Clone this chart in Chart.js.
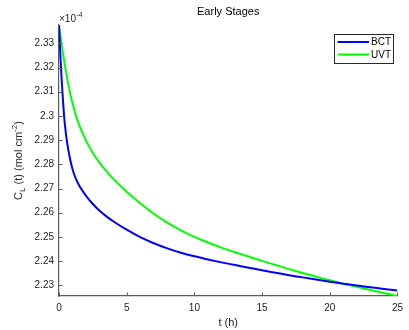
<!DOCTYPE html>
<html lang="en">
<head>
    <meta charset="UTF-8">
    <title>Early Stages</title>
    <script src="https://cdn.jsdelivr.net/npm/chart.js"></script>
    <style>
        html, body { margin: 0; padding: 0; background: #fff; }
        #wrap { width: 409px; height: 330px; position: relative; }
    </style>
</head>
<body>
    <div id="wrap"><canvas id="earlyChart"></canvas></div>

    <script>
        // time in hours
        const hours = [0, 0.05, 0.1, 0.15, 0.2, 0.3, 0.4, 0.5, 0.6, 0.8, 1, 1.25, 1.5, 2, 2.5, 3, 3.5, 4,
            5, 6, 7, 8, 9, 10, 11, 12, 13, 14, 15, 16, 17, 18, 19, 20, 21, 22, 23, 24, 25];

        // C_L(t) in units of 1e-4 mol cm^-2
        const bct = [2.3375, 2.3312, 2.3253, 2.3198, 2.3148, 2.3058, 2.2985, 2.2932, 2.2890, 2.2827,
            2.2780, 2.2740, 2.2712, 2.2670, 2.2636, 2.2608, 2.2585, 2.2565,
            2.2530, 2.2499, 2.2474, 2.2453, 2.2435, 2.2420, 2.2407, 2.2395, 2.2384, 2.2373,
            2.2362, 2.2352, 2.2342, 2.2333, 2.2324, 2.2315, 2.2307, 2.2299, 2.2292, 2.2285, 2.2279];
        const uvt = [2.3375, 2.3354, 2.3333, 2.3313, 2.3293, 2.3256, 2.3221, 2.3188, 2.3157, 2.3100,
            2.3052, 2.3002, 2.2961, 2.2898, 2.2847, 2.2806, 2.2772, 2.2741,
            2.2687, 2.2639, 2.2596, 2.2559, 2.2527, 2.2500, 2.2477, 2.2456, 2.2437, 2.2419,
            2.2401, 2.2384, 2.2367, 2.2351, 2.2336, 2.2321, 2.2307, 2.2294, 2.2281, 2.2268, 2.2256];

        const seriesNames = ['BCT', 'UVT'];
        const xTicks = [0, 5, 10, 15, 20, 25];
        const yTicks = [2.23, 2.24, 2.25, 2.26, 2.27, 2.28, 2.29, 2.3, 2.31, 2.32, 2.33];

        const axisColor = '#5a5a5a';
        const textColor = '#262626';
        const fontFamily = '"Liberation Sans", Arial, Helvetica, sans-serif';

        // small inward tick marks, MATLAB style
        const innerTicks = {
            id: 'innerTicks',
            afterDatasetsDraw(chart) {
                const ctx = chart.ctx;
                const x = chart.scales.x, y = chart.scales.y;
                const area = chart.chartArea;
                ctx.save();
                ctx.strokeStyle = axisColor;
                ctx.lineWidth = 1;
                ctx.beginPath();
                x.ticks.forEach(t => {
                    const px = Math.round(x.getPixelForValue(t.value)) + 0.5;
                    ctx.moveTo(px, area.bottom);
                    ctx.lineTo(px, area.bottom - 3.5);
                });
                y.ticks.forEach(t => {
                    const py = Math.round(y.getPixelForValue(t.value)) + 0.5;
                    ctx.moveTo(area.left, py);
                    ctx.lineTo(area.left + 3.5, py);
                });
                ctx.stroke();
                ctx.restore();
            }
        };

        // title, exponent, y label and the legend box
        const annotations = {
            id: 'annotations',
            afterDraw(chart) {
                const ctx = chart.ctx;
                const area = chart.chartArea;
                const midX = (area.left + area.right) / 2;
                const midY = (area.top + area.bottom) / 2;
                ctx.save();

                ctx.fillStyle = '#000';
                ctx.font = '11px ' + fontFamily;
                ctx.textAlign = 'center';
                ctx.textBaseline = 'middle';
                ctx.fillText('Early Stages', midX, 12);

                // x10^-4 above the y axis
                ctx.fillStyle = textColor;
                ctx.textAlign = 'left';
                ctx.textBaseline = 'alphabetic';
                ctx.font = '10px ' + fontFamily;
                ctx.fillText('\u00d710', area.left, 22);
                const w10 = ctx.measureText('\u00d710').width;
                ctx.font = '7px ' + fontFamily;
                ctx.fillText('-4', area.left + w10 + 0.5, 17);

                // y label: C_L (t) (mol cm^-2)
                const parts = [
                    { s: 'C', f: 11, dy: 0 },
                    { s: 'L', f: 8, dy: 3 },
                    { s: ' (t) (mol cm', f: 11, dy: 0 },
                    { s: '-2', f: 8, dy: -5 },
                    { s: ')', f: 11, dy: 0 }
                ];
                let total = 0;
                parts.forEach(p => {
                    ctx.font = p.f + 'px ' + fontFamily;
                    p.w = ctx.measureText(p.s).width;
                    total += p.w;
                });
                ctx.translate(22, midY);
                ctx.rotate(-Math.PI / 2);
                let cx = -total / 2;
                parts.forEach(p => {
                    ctx.font = p.f + 'px ' + fontFamily;
                    ctx.fillText(p.s, cx, p.dy);
                    cx += p.w;
                });
                ctx.setTransform(1, 0, 0, 1, 0, 0);

                // legend
                const bx = 334.5, by = 34.5, bw = 59, bh = 29;
                ctx.fillStyle = '#fff';
                ctx.fillRect(bx, by, bw, bh);
                ctx.strokeStyle = textColor;
                ctx.lineWidth = 1;
                ctx.strokeRect(bx, by, bw, bh);
                chart.data.datasets.forEach((ds, i) => {
                    const ly = 42 + i * 12.5;
                    ctx.strokeStyle = ds.borderColor;
                    ctx.lineWidth = 2;
                    ctx.beginPath();
                    ctx.moveTo(337.5, ly);
                    ctx.lineTo(369, ly);
                    ctx.stroke();
                    ctx.fillStyle = '#000';
                    ctx.font = '10px ' + fontFamily;
                    ctx.textBaseline = 'middle';
                    ctx.fillText(ds.label, 371, ly + 0.5);
                });
                ctx.restore();
            }
        };

        const toPoints = vals => hours.map((t, i) => ({ x: t, y: vals[i] }));

        new Chart(document.getElementById('earlyChart').getContext('2d'), {
            type: 'line',
            data: {
                datasets: [
                    {
                        label: seriesNames[0],
                        data: toPoints(bct),
                        borderColor: '#0000ff',
                        borderWidth: 2,
                        pointRadius: 0,
                        cubicInterpolationMode: 'monotone',
                        fill: false
                    },
                    {
                        label: seriesNames[1],
                        data: toPoints(uvt),
                        borderColor: '#00ff00',
                        borderWidth: 2,
                        pointRadius: 0,
                        cubicInterpolationMode: 'monotone',
                        fill: false
                    }
                ]
            },
            options: {
                responsive: true,
                maintainAspectRatio: false,
                animation: false,
                events: [],
                layout: { padding: { top: 25, right: 7, bottom: 0, left: 0 } },
                plugins: {
                    legend: { display: false },
                    title: { display: false },
                    tooltip: { enabled: false }
                },
                scales: {
                    x: {
                        type: 'linear',
                        min: 0,
                        max: 25,
                        afterBuildTicks: s => { s.ticks = xTicks.map(v => ({ value: v })); },
                        afterFit: s => { s.height = 34; },
                        grid: { drawOnChartArea: false, drawTicks: false },
                        border: { color: axisColor, width: 1.2 },
                        ticks: {
                            padding: 6,
                            color: textColor,
                            font: { family: fontFamily, size: 10 },
                            callback: v => String(v)
                        },
                        title: {
                            display: true,
                            text: 't (h)',
                            color: textColor,
                            font: { family: fontFamily, size: 11 },
                            padding: { top: 3, bottom: 0 }
                        }
                    },
                    y: {
                        type: 'linear',
                        min: 2.2256,
                        max: 2.33757,
                        afterBuildTicks: s => { s.ticks = yTicks.map(v => ({ value: v })); },
                        afterFit: s => { s.width = 59; },
                        grid: { drawOnChartArea: false, drawTicks: false },
                        border: { color: axisColor, width: 1.2 },
                        ticks: {
                            padding: 5,
                            color: textColor,
                            font: { family: fontFamily, size: 10 },
                            callback: v => String(Math.round(v * 100) / 100)
                        }
                    }
                }
            },
            plugins: [innerTicks, annotations]
        });
    </script>
</body>
</html>
